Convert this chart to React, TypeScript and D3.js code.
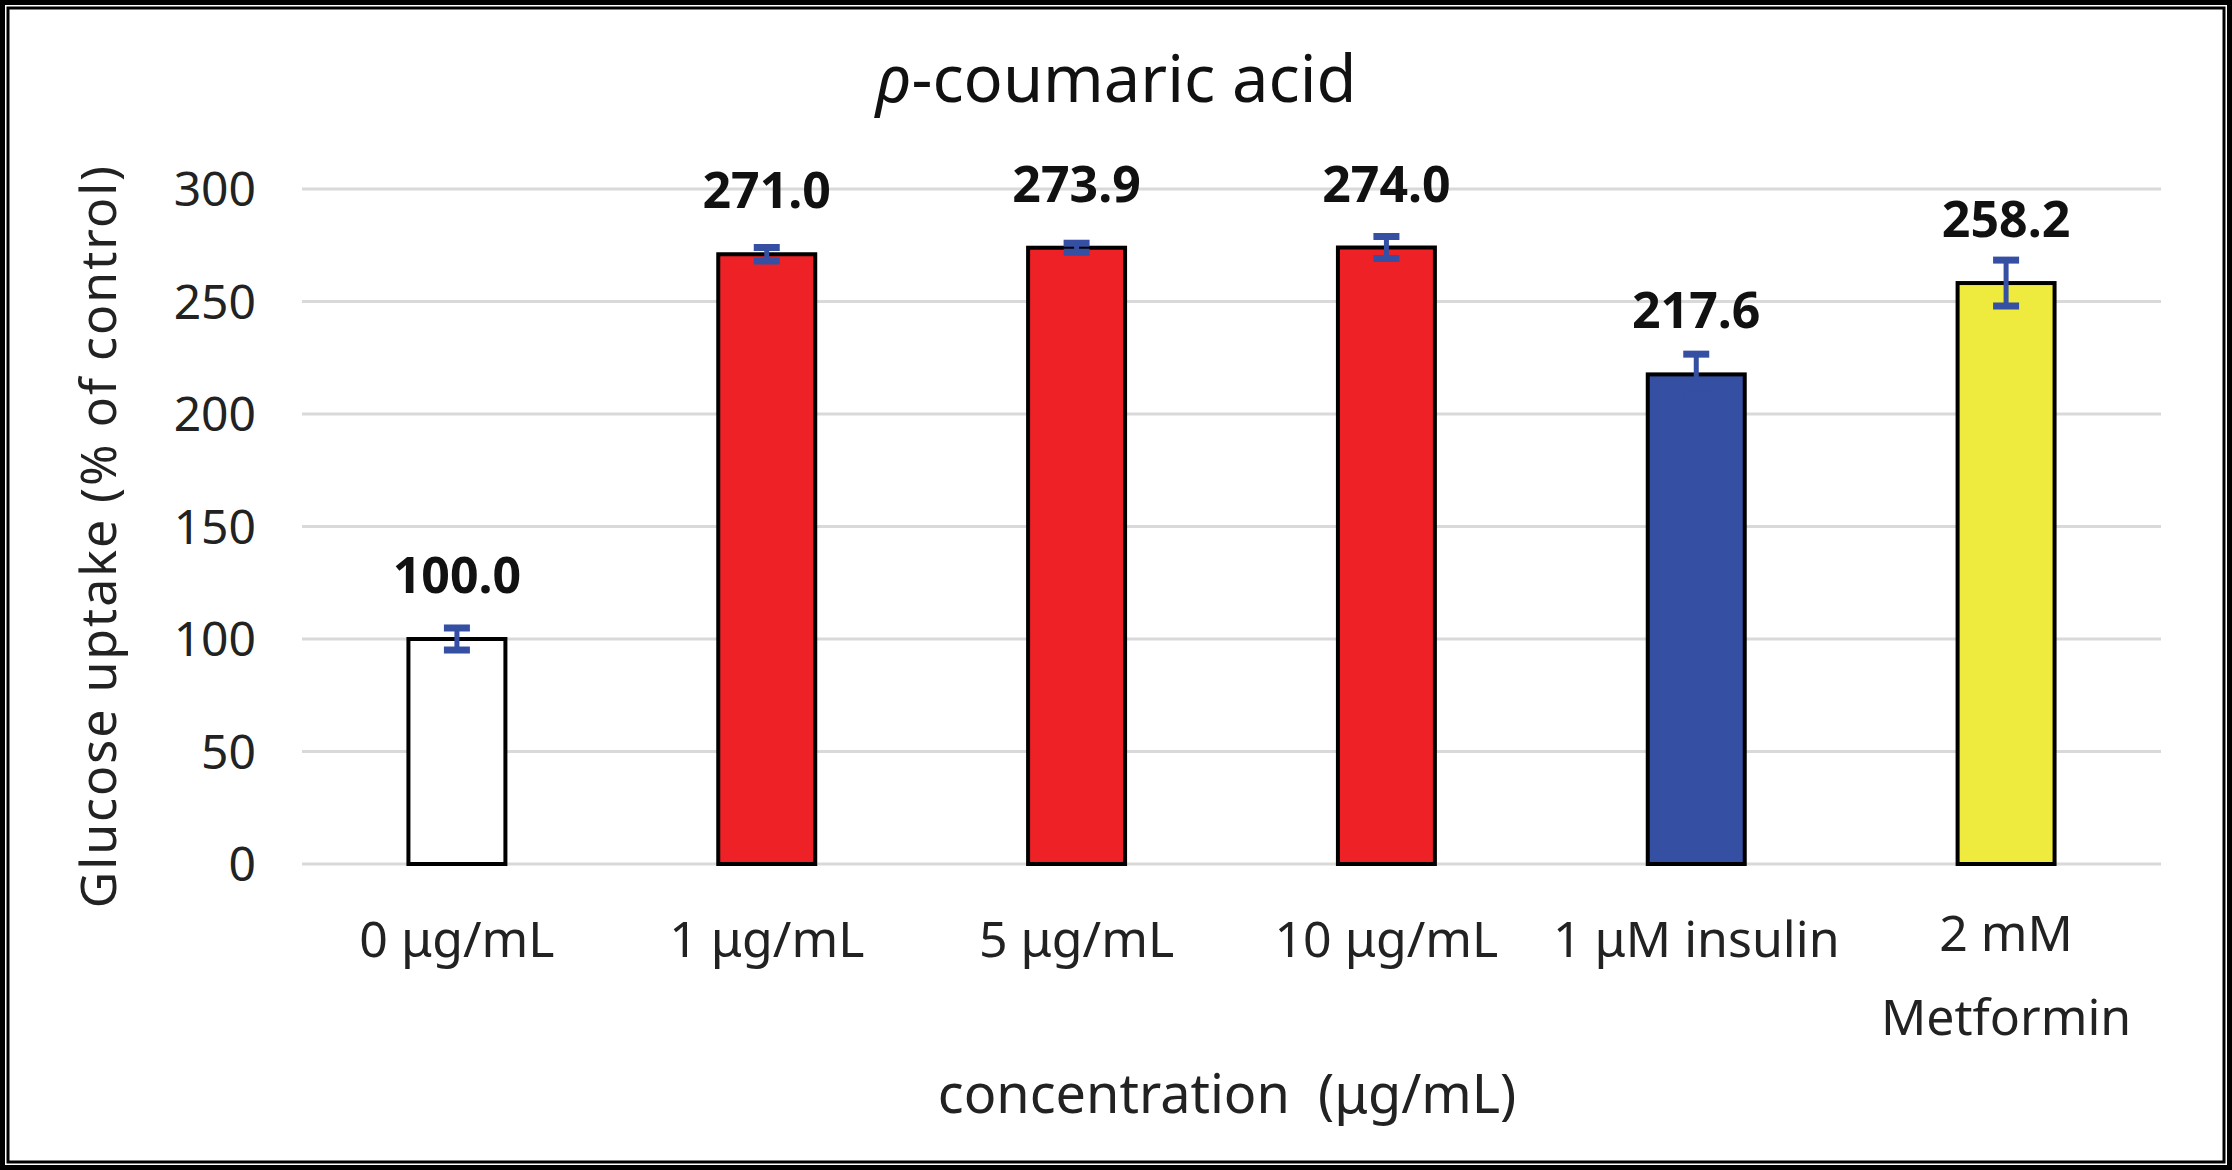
import React from 'react';
import * as d3 from 'd3';

// chart data
const categories = ['0 μg/mL', '1 μg/mL', '5 μg/mL', '10 μg/mL', '1 μM insulin', '2 mM\nMetformin'];
const values = [100.0, 271.0, 273.9, 274.0, 217.6, 258.2];
const errors = [4.9, 3.0, 2.0, 4.9, 9.0, 10.2];
const barColors = ['#FFFFFF', '#EE2226', '#EE2226', '#EE2226', '#354FA2', '#EEEA3E'];
const yTicks = [0, 50, 100, 150, 200, 250, 300];

const W = 2232;
const H = 1170;
const PLOT = { left: 302, right: 2161, top: 189, bottom: 864 };
const FONT = '"Noto Sans", "DejaVu Sans", sans-serif';
const ERR_COLOR = '#354FA2';

export default function App() {
  const x = d3.scaleBand<string>()
    .domain(categories)
    .range([PLOT.left, PLOT.right])
    .paddingInner(0.687)
    .paddingOuter(0.687 / 2);
  const y = d3.scaleLinear().domain([0, 300]).range([PLOT.bottom, PLOT.top]);
  const bw = x.bandwidth();
  const capW = 26;

  return (
    <svg
      width={W}
      height={H}
      style={{ position: 'absolute', left: 0, top: 0, background: '#fff' }}
      fontFamily={FONT}
    >
      <rect x={0} y={0} width={W} height={H} fill="#fff" />
      {/* double frame */}
      <rect x={2.5} y={2.5} width={W - 5} height={H - 5} fill="none" stroke="#000" strokeWidth={5} />
      <rect x={8} y={8} width={W - 16} height={H - 16} fill="none" stroke="#000" strokeWidth={3} />

      {/* title */}
      <text x={1116} y={102} textAnchor="middle" fontSize={65} fill="#111">
        <tspan fontStyle="italic">ρ</tspan>-coumaric acid
      </text>

      {/* gridlines + y ticks */}
      {yTicks.map(t => (
        <g key={t}>
          <line x1={PLOT.left} x2={PLOT.right} y1={y(t)} y2={y(t)} stroke="#D9D9D9" strokeWidth={3} />
          <text x={256} y={y(t)} dy="0.36em" textAnchor="end" fontSize={48} fill="#222">{t}</text>
        </g>
      ))}

      {/* bars */}
      {categories.map((c, i) => {
        const x0 = x(c)!;
        const top = y(values[i]);
        return (
          <rect
            key={c}
            x={x0}
            y={top}
            width={bw}
            height={y(0) - top}
            fill={barColors[i]}
            stroke="#000"
            strokeWidth={4}
          />
        );
      })}

      {/* error bars */}
      {categories.map((c, i) => {
        const cx = x(c)! + bw / 2;
        const hi = y(values[i] + errors[i]);
        const lo = y(values[i] - errors[i]);
        return (
          <g key={c} stroke={ERR_COLOR}>
            <line x1={cx} x2={cx} y1={hi} y2={lo} strokeWidth={5} />
            <line x1={cx - capW / 2} x2={cx + capW / 2} y1={hi} y2={hi} strokeWidth={7} />
            <line x1={cx - capW / 2} x2={cx + capW / 2} y1={lo} y2={lo} strokeWidth={7} />
          </g>
        );
      })}

      {/* value labels */}
      {categories.map((c, i) => (
        <text
          key={c}
          x={x(c)! + bw / 2}
          y={y(values[i]) - 46}
          textAnchor="middle"
          fontSize={50}
          fontWeight={700}
          fill="#111"
        >
          {values[i].toFixed(1)}
        </text>
      ))}

      {/* category labels */}
      {categories.map(c => {
        const lines = c.split('\n');
        const cx = x(c)! + bw / 2;
        return (
          <text key={c} x={cx} y={lines.length > 1 ? 951 : 957} textAnchor="middle" fontSize={50} fill="#222">
            {lines.map((l, j) => (
              <tspan key={j} x={cx} dy={j === 0 ? 0 : 84}>{l}</tspan>
            ))}
          </text>
        );
      })}

      {/* axis titles */}
      <text x={1227} y={1113} textAnchor="middle" fontSize={54} fill="#222" style={{ whiteSpace: 'pre' }}>
        {'concentration  (μg/mL)'}
      </text>
      <text
        transform={`translate(97, 536) rotate(-90)`}
        textAnchor="middle"
        dominantBaseline="central"
        fontSize={50}
        letterSpacing={2}
        fill="#222"
      >
        Glucose uptake (% of control)
      </text>
    </svg>
  );
}
